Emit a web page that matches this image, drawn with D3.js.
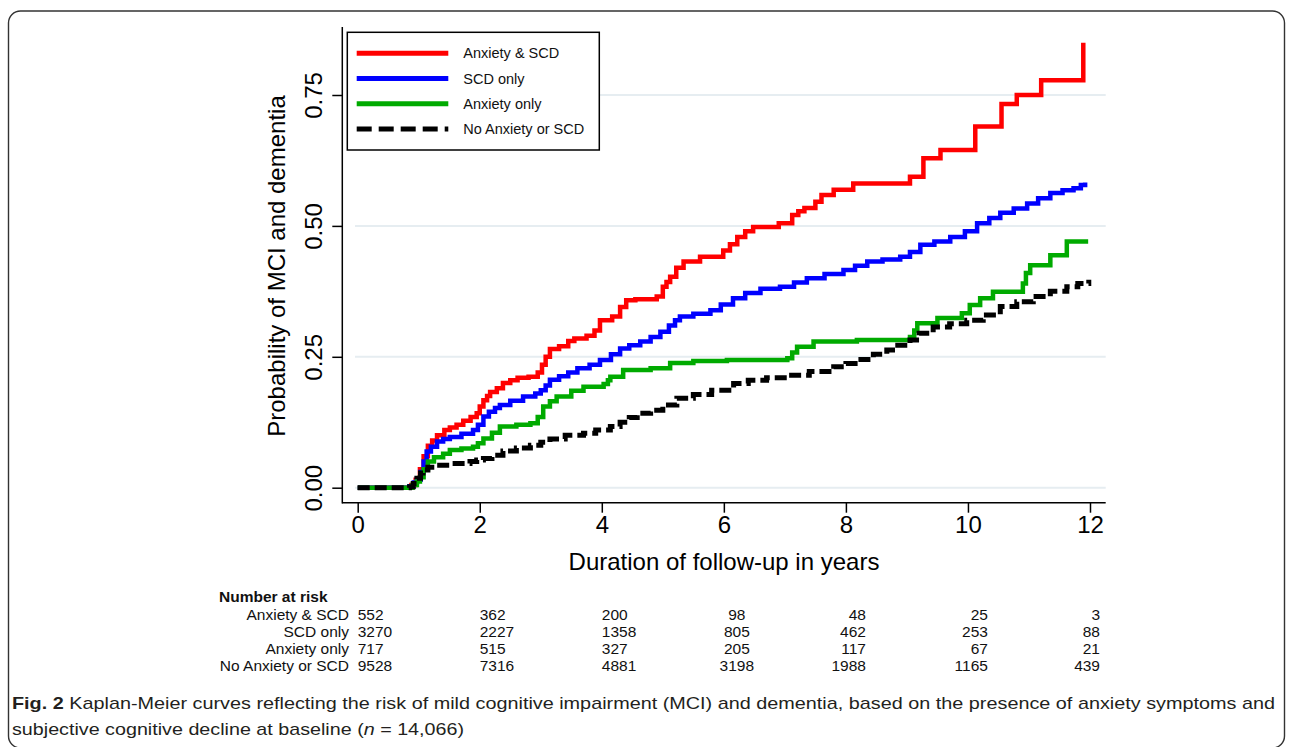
<!DOCTYPE html>
<html><head><meta charset="utf-8">
<script src="https://cdn.jsdelivr.net/npm/d3@7"></script>
<style>
html,body{margin:0;padding:0;background:#fff;}
svg{display:block;}
text{font-family:"Liberation Sans",Arial,Helvetica,sans-serif;}
</style></head>
<body><svg id="c" width="1290" height="747"></svg>
<script>
// ---- data ----
const seriesNames = ["Anxiety & SCD","SCD only","Anxiety only","No Anxiety or SCD"];
const seriesColors = ["#ff0000","#0000ff","#00aa00","#000000"];

const redT = [0,0.88,0.95,1.02,1.08,1.15,1.22,1.3,1.42,1.51,1.62,1.73,1.85,1.95,2.0,2.06,2.12,2.17,2.28,2.38,2.5,2.62,2.8,2.95,3.02,3.08,3.15,3.3,3.45,3.55,3.75,3.88,3.97,4.17,4.3,4.4,4.55,4.9,5.0,5.06,5.12,5.22,5.34,5.61,5.99,6.1,6.22,6.35,6.48,6.9,7.12,7.22,7.32,7.5,7.6,7.8,8.12,9.05,9.27,9.55,10.12,10.55,10.8,11.2,11.89];
const redV = [0,0.005,0.015,0.035,0.06,0.08,0.09,0.1,0.11,0.115,0.12,0.128,0.135,0.142,0.155,0.167,0.175,0.183,0.19,0.2,0.205,0.21,0.212,0.22,0.235,0.25,0.265,0.27,0.28,0.285,0.29,0.3,0.32,0.327,0.345,0.358,0.36,0.365,0.384,0.393,0.403,0.42,0.432,0.441,0.453,0.465,0.479,0.49,0.498,0.505,0.521,0.528,0.534,0.546,0.559,0.569,0.581,0.594,0.629,0.645,0.69,0.733,0.75,0.778,0.85];

const blueT = [0,0.85,0.92,0.97,1.03,1.08,1.13,1.2,1.3,1.4,1.51,1.7,1.89,1.97,2.06,2.15,2.25,2.33,2.5,2.71,2.91,3.0,3.08,3.15,3.3,3.45,3.6,3.8,3.97,4.15,4.3,4.45,4.63,4.8,4.96,5.1,5.2,5.28,5.5,5.78,5.95,6.15,6.35,6.6,6.92,7.15,7.36,7.65,7.96,8.15,8.35,8.6,8.89,9.05,9.22,9.45,9.71,9.95,10.15,10.35,10.53,10.75,10.97,11.15,11.35,11.55,11.73,11.85,11.92];
const blueV = [0,0.003,0.01,0.015,0.03,0.05,0.069,0.078,0.088,0.093,0.097,0.103,0.11,0.12,0.136,0.145,0.152,0.158,0.166,0.174,0.18,0.186,0.195,0.206,0.213,0.22,0.228,0.235,0.244,0.255,0.266,0.272,0.279,0.288,0.298,0.31,0.32,0.327,0.332,0.339,0.35,0.362,0.372,0.38,0.384,0.392,0.4,0.408,0.416,0.424,0.432,0.436,0.441,0.45,0.464,0.47,0.479,0.49,0.505,0.515,0.525,0.533,0.543,0.553,0.563,0.568,0.572,0.578,0.583];

const greenT = [0,0.9,0.97,1.02,1.08,1.15,1.25,1.4,1.51,1.7,1.89,1.97,2.06,2.2,2.33,2.6,2.83,2.95,3.04,3.15,3.26,3.5,3.7,4.03,4.1,4.14,4.35,4.8,5.12,5.5,6.05,7.04,7.12,7.2,7.47,8.18,9.05,9.12,9.17,9.5,9.9,10.03,10.2,10.41,10.9,10.95,11.02,11.35,11.62,11.97];
const greenV = [0,0.005,0.012,0.02,0.035,0.05,0.058,0.065,0.072,0.075,0.078,0.085,0.094,0.105,0.117,0.12,0.123,0.135,0.155,0.165,0.174,0.185,0.193,0.198,0.205,0.212,0.225,0.228,0.238,0.242,0.244,0.247,0.258,0.269,0.279,0.282,0.288,0.3,0.314,0.324,0.333,0.349,0.362,0.374,0.39,0.41,0.425,0.444,0.47,0.47];

const blackT = [0,0.85,0.91,0.97,1.03,1.07,1.15,1.3,1.5,1.84,1.95,2.06,2.2,2.38,2.6,2.83,3.0,3.15,3.4,3.7,3.9,4.14,4.3,4.45,4.58,4.8,5.0,5.23,5.5,5.8,6.16,6.4,6.7,7.04,7.4,7.8,8.0,8.2,8.45,8.67,8.85,9.05,9.2,9.43,9.7,9.98,10.25,10.53,10.8,11.07,11.35,11.62,11.8,11.98];
const blackV = [0,0.002,0.008,0.018,0.028,0.034,0.039,0.043,0.046,0.05,0.053,0.056,0.062,0.07,0.076,0.081,0.087,0.093,0.1,0.104,0.11,0.117,0.125,0.134,0.142,0.148,0.158,0.171,0.178,0.186,0.199,0.205,0.21,0.215,0.222,0.231,0.237,0.245,0.255,0.263,0.272,0.282,0.295,0.307,0.313,0.32,0.33,0.346,0.355,0.365,0.375,0.384,0.39,0.397];

const xTicks = [0,2,4,6,8,10,12];
const yTicks = [0,0.25,0.5,0.75];
const riskTimes = [0,2,4,6,8,10,12];
const riskAnxSCD = [552,362,200,98,48,25,3];
const riskSCD = [3270,2227,1358,805,462,253,88];
const riskAnx = [717,515,327,205,117,67,21];
const riskNone = [9528,7316,4881,3198,1988,1165,439];

// ---- drawing ----
const svg = d3.select("#c");
svg.append("rect").attr("width",1290).attr("height",747).attr("fill","#fff");
svg.append("rect").attr("x",8.5).attr("y",11).attr("width",1276).attr("height",737)
  .attr("rx",12).attr("fill","none").attr("stroke","#333").attr("stroke-width",1.4);

const x = d3.scaleLinear().domain([0,12]).range([357.7,1090]);
const y = d3.scaleLinear().domain([0,0.75]).range([487.7,95]);

// grid
svg.append("g").selectAll("line").data(yTicks).join("line")
  .attr("x1",355).attr("x2",1105.7).attr("y1",d=>y(d)).attr("y2",d=>y(d))
  .attr("stroke","#e6edf1").attr("stroke-width",2);

// curves
const line = d3.line().x(d=>x(d[0])).y(d=>y(d[1])).curve(d3.curveStepAfter);
const series = [
  {t:redT,v:redV,c:seriesColors[0],dash:null},
  {t:blueT,v:blueV,c:seriesColors[1],dash:null},
  {t:greenT,v:greenV,c:seriesColors[2],dash:null},
  {t:blackT,v:blackV,c:seriesColors[3],dash:"12,5"}
];
svg.append("g").selectAll("path").data(series).join("path")
  .attr("d",s=>line(s.t.map((t,i)=>[t,s.v[i]])))
  .attr("fill","none").attr("stroke",s=>s.c)
  .attr("stroke-width",s=>s.dash?5:4.5)
  .attr("stroke-dasharray",s=>s.dash)
  .attr("stroke-linejoin","miter");

// axes
const gx = svg.append("g").attr("transform","translate(0,502.7)")
  .call(d3.axisBottom(x).tickValues(xTicks).tickSize(10).tickPadding(3));
gx.select(".domain").remove();
gx.selectAll(".tick line").attr("stroke","#000").attr("stroke-width",1.5);
gx.selectAll(".tick text").attr("font-size",24).attr("fill","#000")
  .attr("font-family","'Liberation Sans',Arial,sans-serif");
svg.append("line").attr("x1",342.3).attr("x2",1105.7).attr("y1",502.7).attr("y2",502.7)
  .attr("stroke","#000").attr("stroke-width",1.5);

const gy = svg.append("g").attr("transform","translate(342.3,0)")
  .call(d3.axisLeft(y).tickValues(yTicks).tickSize(10).tickFormat(d3.format(".2f")));
gy.select(".domain").remove();
gy.selectAll(".tick line").attr("stroke","#000").attr("stroke-width",1.5);
gy.selectAll(".tick text").attr("font-size",24).attr("fill","#000")
  .attr("font-family","'Liberation Sans',Arial,sans-serif")
  .attr("x",null).attr("dy",null).attr("text-anchor","middle")
  .attr("transform","translate(-20,0) rotate(-90)");
svg.append("line").attr("x1",342.3).attr("x2",342.3).attr("y1",27).attr("y2",503.4)
  .attr("stroke","#000").attr("stroke-width",1.5);

// axis titles
svg.append("text").attr("x",724).attr("y",570).attr("text-anchor","middle")
  .attr("font-size",24).text("Duration of follow-up in years");
svg.append("text").attr("transform","translate(285,266) rotate(-90)").attr("text-anchor","middle")
  .attr("font-size",24).text("Probability of MCI and dementia");

// legend
const lg = svg.append("g");
lg.append("rect").attr("x",347.3).attr("y",32.3).attr("width",252).attr("height",117.7)
  .attr("fill","#fff").attr("stroke","#000").attr("stroke-width",1.5);
const ly = d3.scalePoint().domain(seriesNames).range([53.3,129]);
lg.selectAll("line").data(series).join("line")
  .attr("x1",356.7).attr("x2",448.3)
  .attr("y1",(s,i)=>ly(seriesNames[i])).attr("y2",(s,i)=>ly(seriesNames[i]))
  .attr("stroke",s=>s.c).attr("stroke-width",5).attr("stroke-dasharray",s=>s.dash?"15,7":null);
lg.selectAll("text").data(seriesNames).join("text")
  .attr("x",463.3).attr("y",d=>ly(d)+5).attr("font-size",14.5).attr("fill","#111").text(d=>d);

// number at risk table
const rt = svg.append("g").attr("font-size",15.5).attr("fill","#111");
rt.append("text").attr("x",219).attr("y",602).attr("font-weight","bold").text("Number at risk");
const rows = [riskAnxSCD,riskSCD,riskAnx,riskNone];
const rowY = d3.scalePoint().domain(seriesNames).range([619.5,671]);
rt.selectAll("text.lab").data(seriesNames).join("text").attr("class","lab")
  .attr("x",349).attr("y",d=>rowY(d)).attr("text-anchor","end").text(d=>d);
const anchorFor = t => t<=4 ? "start" : (t===6 ? "middle" : "end");
const offFor = t => t<=4 ? 0 : (t===6 ? 13 : (t===12 ? 10 : 20));
rows.forEach((r,ri)=>{
  rt.selectAll("text.r"+ri).data(r).join("text").attr("class","r"+ri)
    .attr("x",(d,i)=>x(riskTimes[i])+offFor(riskTimes[i]))
    .attr("y",rowY(seriesNames[ri]))
    .attr("text-anchor",(d,i)=>anchorFor(riskTimes[i])).text(d=>d);
});

// caption
const cap = svg.append("g").attr("fill","#231f20").attr("font-size",17);
const c1 = cap.append("text").attr("x",12).attr("y",709).attr("font-family","'Open Sans',sans-serif");
c1.append("tspan").attr("font-weight","bold").text("Fig. 2");
c1.append("tspan").text(" Kaplan-Meier curves reflecting the risk of mild cognitive impairment (MCI) and dementia, based on the presence of anxiety symptoms and");
c1.attr("textLength",1263).attr("lengthAdjust","spacingAndGlyphs");
const c2 = cap.append("text").attr("x",12).attr("y",735).attr("font-family","'Open Sans',sans-serif");
c2.append("tspan").text("subjective cognitive decline at baseline (");
c2.append("tspan").attr("font-style","italic").text("n");
c2.append("tspan").text(" = 14,066)");
c2.attr("textLength",452).attr("lengthAdjust","spacingAndGlyphs");
</script></body></html>
